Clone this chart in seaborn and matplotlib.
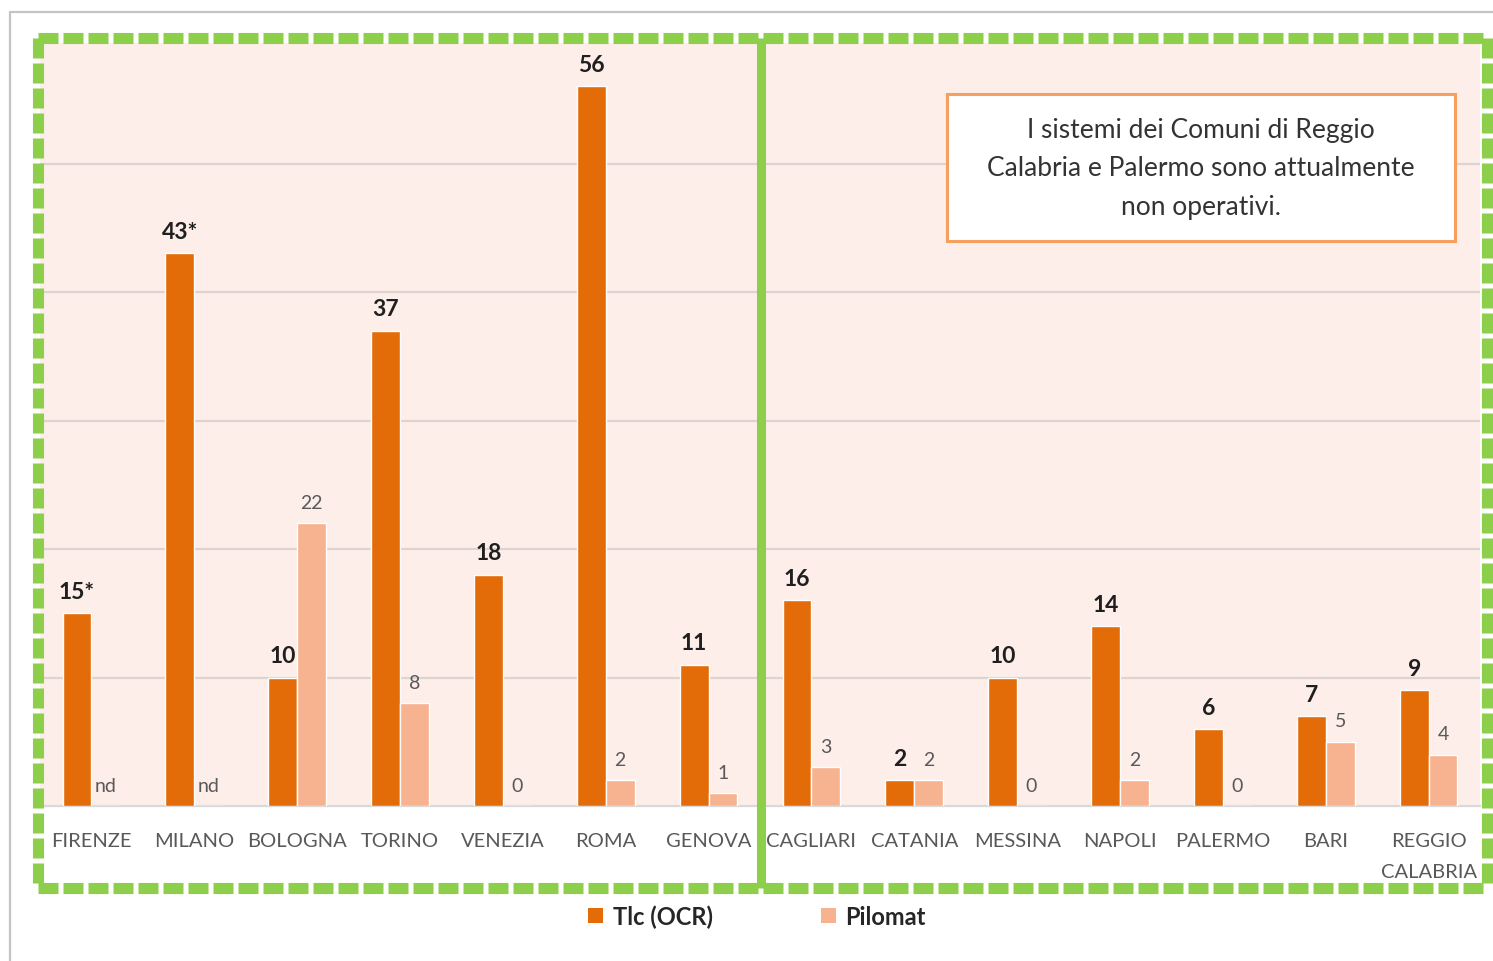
import numpy as np
import pandas as pd
import matplotlib
matplotlib.use("Agg")
import matplotlib.pyplot as plt
import seaborn as sns
from matplotlib.lines import Line2D
from matplotlib.patches import Patch, Rectangle

# ---- data -------------------------------------------------------------
cities = ["FIRENZE", "MILANO", "BOLOGNA", "TORINO", "VENEZIA", "ROMA", "GENOVA",
          "CAGLIARI", "CATANIA", "MESSINA", "NAPOLI", "PALERMO", "BARI",
          "REGGIO\nCALABRIA"]
series = ["Tlc (OCR)", "Pilomat"]
tlc = [15, 43, 10, 37, 18, 56, 11, 16, 2, 10, 14, 6, 7, 9]
tlc_labels = ["15*", "43*", "10", "37", "18", "56", "11", "16", "2", "10", "14", "6", "7", "9"]
pilomat = [None, None, 22, 8, 0, 2, 1, 3, 2, 0, 2, 0, 5, 4]   # None = dato non disponibile
note = "I sistemi dei Comuni di Reggio\nCalabria e Palermo sono attualmente\nnon operativi."

colors = {"Tlc (OCR)": "#E36C09", "Pilomat": "#F7B38F"}
green = "#8DCF4B"
pink = "#FDEEE9"

# ---- style ------------------------------------------------------------
sns.set_theme(style="white")
plt.rcParams["font.family"] = ["Lato", "DejaVu Sans"]

W, H = 1493, 962
def fx(px):
    return px / W
def fy(py):
    return 1 - py / H

fig = plt.figure(figsize=(W / 100, H / 100), dpi=100, facecolor="white")

base_y, top_y = 807, 44
ax = fig.add_axes([fx(40), fy(base_y), fx(1480) - fx(40), fy(top_y) - fy(base_y)])
ax.set_facecolor(pink)

df = pd.DataFrame({
    "Città": cities * 2,
    "Serie": [series[0]] * len(cities) + [series[1]] * len(cities),
    "Valore": tlc + [0 if v is None else v for v in pilomat],
})

sns.barplot(data=df, x="Città", y="Valore", hue="Serie", order=cities,
            hue_order=series, palette=colors, width=0.56, saturation=1,
            legend=False, ax=ax, zorder=3)

ax.set_xlim(-0.5, len(cities) - 0.5)
ax.set_ylim(0, (base_y - top_y) / 12.85)
ax.set_yticks([10, 20, 30, 40, 50])
ax.yaxis.grid(True, color="#DDD4D1", linewidth=1.6)
ax.set_axisbelow(True)
ax.tick_params(axis="y", left=False, labelleft=False)
for s in ["left", "right", "top"]:
    ax.spines[s].set_visible(False)
ax.spines["bottom"].set_color("#D9D9D9")
ax.spines["bottom"].set_linewidth(1.6)
ax.set_xlabel("")
ax.set_ylabel("")

# category labels and separators
ax.set_xticks(range(len(cities)))
ax.set_xticklabels(cities, color="#595959", fontsize=14.5, linespacing=1.95)
ax.tick_params(axis="x", which="major", length=0, pad=19)
ax.set_xticks(np.arange(len(cities) + 1) - 0.5, minor=True)
ax.tick_params(axis="x", which="minor", length=6, width=1.6, color="#D9D9D9")

# value labels
tlc_bars, pil_bars = ax.containers[0], ax.containers[1]
for bar, lab in zip(tlc_bars, tlc_labels):
    ax.annotate(lab, (bar.get_x() + bar.get_width() / 2, bar.get_height()),
                xytext=(0, 11), textcoords="offset points", ha="center",
                va="baseline", fontsize=16.5, fontweight="bold", color="#1F1F1F")
for bar, v in zip(pil_bars, pilomat):
    lab = "nd" if v is None else str(v)
    ax.annotate(lab, (bar.get_x() + bar.get_width() / 2, bar.get_height()),
                xytext=(0, 11), textcoords="offset points", ha="center",
                va="baseline", fontsize=14, color="#595959")

# note box
fig.add_artist(Rectangle((fx(947), fy(242)), fx(1455) - fx(947), fy(95) - fy(242),
                         transform=fig.transFigure, facecolor="white",
                         edgecolor="#F5A05E", linewidth=2.2, zorder=5))
fig.text(fx(1201), fy(169), note, ha="center", va="center", fontsize=19,
         color="#333333", linespacing=1.68, zorder=6)

# outer container border
fig.add_artist(Line2D([fx(10), fx(10)], [fy(13), -0.1], color="#C4C4C4", lw=1.6))
fig.add_artist(Line2D([fx(10), 1.1], [fy(13), fy(13)], color="#C4C4C4", lw=1.6))

# dashed green frame and panel separator
lw = 8.0
dash = (0, (1.8, 0.45))
xl, xr, yt, yb = 38, 1487, 39, 889
for xs, ys in [([xl, xr], [yt, yt]), ([xl, xr], [yb, yb]),
               ([xl, xl], [yt, yb]), ([xr, xr], [yt, yb])]:
    fig.add_artist(Line2D([fx(x) for x in xs], [fy(y) for y in ys], color=green,
                          lw=lw, linestyle=dash, solid_capstyle="butt",
                          dash_capstyle="butt", zorder=7))
fig.add_artist(Line2D([fx(761), fx(761)], [fy(yt), fy(yb)], color=green, lw=6.5,
                      solid_capstyle="butt", zorder=7))

# legend
handles = [Patch(facecolor=colors[s], edgecolor="none", label=s) for s in series]
fig.legend(handles=handles, loc="center", bbox_to_anchor=(fx(757), fy(917)),
           ncol=2, frameon=False, handlelength=0.62, handleheight=0.62,
           handletextpad=0.4, columnspacing=4.6,
           prop={"size": 17, "weight": "bold"}, labelcolor="#262626")

fig.savefig("out.png", dpi=100, facecolor="white")
